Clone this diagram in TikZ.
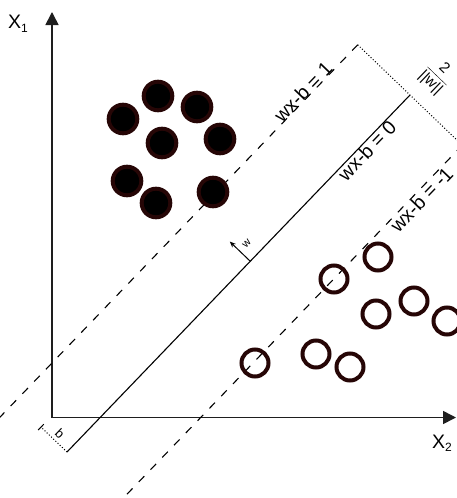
\documentclass[tikz,border=0pt]{standalone}
\usepackage{fontspec}
\setmainfont{Liberation Sans}
\usetikzlibrary{arrows.meta}
\definecolor{dotc}{RGB}{38,6,6}
\definecolor{axisc}{RGB}{30,30,30}
\begin{document}
\begin{tikzpicture}[x=1pt,y=-1pt,
  axis/.style={draw=axisc,line width=1.6pt,line join=miter},
  plane/.style={draw=black,line width=1.1pt},
  marginline/.style={draw=black,line width=1.1pt,dash pattern=on 8pt off 9pt},
  dimline/.style={draw=black,line width=1pt,dash pattern=on 1pt off 2pt},
  filledpt/.style={circle,draw=dotc,fill=black,line width=4pt,minimum size=28.6pt,inner sep=0pt},
  openpt/.style={circle,draw=dotc,fill=none,line width=4pt,minimum size=27pt,inner sep=0pt},
  eqlabel/.style={font=\fontsize{19.5}{20}\selectfont,inner sep=0pt,rotate=46.15},
  axlabel/.style={font=\fontsize{19.5}{19.5}\selectfont,inner sep=0pt,anchor=base west},
]
\useasboundingbox (0,0) rectangle (457,498);
\clip (0,0) rectangle (457,498);

% axes
\coordinate (O) at (52,417.5);
\coordinate (Ytip) at (52,12);
\coordinate (Xtip) at (456,417.5);
\draw[axis,{Triangle[width=13pt,length=13pt]}-{Triangle[width=13pt,length=13pt]}] (Ytip) -- (O) -- (Xtip);
\node[axlabel] (x1) at (8,28.5) {X\raisebox{-3.7pt}{\fontsize{12}{12}\selectfont 1}};
\node[axlabel] (x2) at (432,448) {X\raisebox{-3pt}{\fontsize{12}{12}\selectfont 2}};

% hyperplanes
\coordinate (S0) at (67,452);
\coordinate (S1) at (410,95);
\coordinate (U1) at (357.7,44.8);
\coordinate (U0) at (-9.5,427);
\coordinate (L1) at (462.3,145.2);
\coordinate (L0) at (116.6,505);
\draw[plane] (S0) -- (S1);
\draw[marginline] (U1) -- (U0);
\draw[marginline] (L1) -- (L0);
\draw[dimline] (U1) -- (L1);

% labels on lines
\node[eqlabel] (e1) at (303,92) {wx-b = 1};
\node[eqlabel] (e0) at (367,150.5) {wx-b = 0};
\node[eqlabel] (em) at (421.5,199.6) {wx-b = -1};
\node[inner sep=0pt,rotate=-43.85,font=\fontsize{15}{15}\selectfont] (frac) at (437,76) {$\displaystyle\frac{\mbox{2}}{\mbox{||w||}}$};

% normal vector w
\coordinate (W0) at (250,261);
\coordinate (W1) at (229.8,241.6);
\draw[line width=1pt,-{Stealth[length=6pt,width=5pt]}] (W0) -- (W1);
\node[inner sep=0pt,rotate=46.15,font=\fontsize{11}{11}\selectfont] (wl) at (246.8,244.1) {w};

% offset b
\coordinate (B1) at (41,427.1);
\coordinate (T0) at (38.2,430);
\coordinate (T1) at (43.8,424.2);
\draw[dimline] (S0) -- (B1);
\draw[line width=1pt] (T0) -- (T1);
\node[inner sep=0pt,rotate=-43.85,font=\fontsize{13}{13}\selectfont] (bl) at (60,433.5) {b};

% class 1 (filled)
\node[filledpt] (p1) at (123,119) {};
\node[filledpt] (p2) at (158,96) {};
\node[filledpt] (p3) at (197,107) {};
\node[filledpt] (p4) at (162,143) {};
\node[filledpt] (p5) at (220,139) {};
\node[filledpt] (p6) at (127,181) {};
\node[filledpt] (p7) at (156,203) {};
\node[filledpt] (p8) at (213,192) {};

% class 2 (open)
\node[openpt] (q1) at (378,257) {};
\node[openpt] (q2) at (334,279) {};
\node[openpt] (q3) at (414,301) {};
\node[openpt] (q4) at (376,314) {};
\node[openpt] (q5) at (447,321) {};
\node[openpt] (q6) at (316,354) {};
\node[openpt] (q7) at (350,367) {};
\node[openpt] (q8) at (255,363) {};
\end{tikzpicture}
\end{document}
